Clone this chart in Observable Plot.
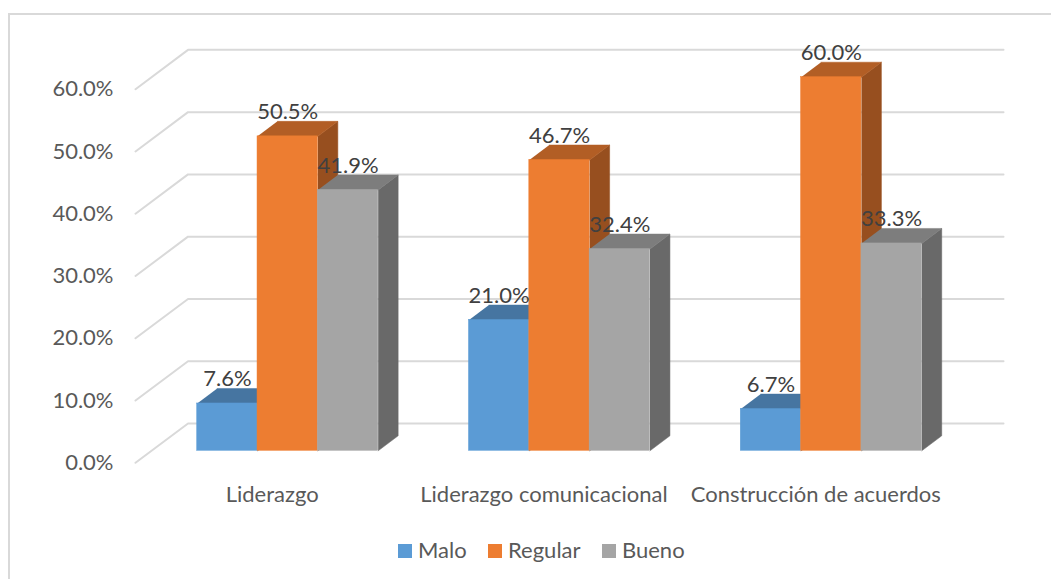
<!DOCTYPE html>
<html>
<head>
<meta charset="utf-8">
<script src="https://cdn.jsdelivr.net/npm/d3@7"></script>
<script src="https://cdn.jsdelivr.net/npm/@observablehq/plot@0.6"></script>
<style>
  html, body { margin: 0; padding: 0; background: #fff; }
  #chart { position: relative; width: 1051px; height: 579px; overflow: hidden; font-family: Lato, sans-serif; }
  #frame { position: absolute; left: 8px; top: 13px; width: 1060px; height: 600px; border-left: 2px solid #d9d9d9; border-top: 2px solid #d9d9d9; }
  #chart svg { position: absolute; left: 0; top: 0; background: transparent; }
  #legend { position: absolute; left: 0; top: 537px; height: 26px; width: 1051px; font-size: 22px; line-height: 26px; color: #595959; }
  #legend i { position: absolute; top: 7px; width: 14px; height: 14px; }
  #legend span { position: absolute; top: 0; }
</style>
</head>
<body>
<div id="chart"><div id="frame"></div><div id="legend"></div></div>
<script>
const categories = ["Liderazgo", "Liderazgo comunicacional", "Construcción de acuerdos"];
const seriesNames = ["Malo", "Regular", "Bueno"];
const malo = [7.6, 21.0, 6.7];
const regular = [50.5, 46.7, 60.0];
const bueno = [41.9, 32.4, 33.3];
const seriesValues = [malo, regular, bueno];
const ticks = [0, 10, 20, 30, 40, 50, 60];
const frontColors = ["#5b9bd5", "#ed7d31", "#a5a5a5"];
const topColors = ["#4675a1", "#b25e25", "#7d7d7d"];
const sideColors = ["#3e6993", "#974f1f", "#696969"];

// x is measured in bar widths, y in percent
const groupStep = 4.505;
const depthX = 0.331, depthY = 2.41;
const wallLeft = -0.152, tipLeft = -1.0227, wallRight = 13.365;
const wallBack = 4.39, wallFront = -1.93;

const bars = [];
seriesValues.forEach((vals, s) => vals.forEach((value, c) => {
  const u0 = c * groupStep + s;
  bars.push({s, c, value, u0, u1: u0 + 1, mid: u0 + 0.5});
}));
const faces = (b) => ({
  top: [[b.u0, b.value], [b.u1, b.value], [b.u1 + depthX, b.value + depthY], [b.u0 + depthX, b.value + depthY]],
  side: [[b.u1, 0], [b.u1 + depthX, depthY], [b.u1 + depthX, b.value + depthY], [b.u1, b.value]]
});
const poly = (pts) => pts.map(([x, y]) => ({x, y}));

const marks = [];
ticks.forEach(t => {
  marks.push(Plot.line(poly([[tipLeft, t + wallFront], [wallLeft, t + wallBack], [wallRight, t + wallBack]]),
    {x: "x", y: "y", stroke: "#d9d9d9", strokeWidth: 2}));
});
bars.forEach(b => {
  const f = faces(b);
  marks.push(Plot.line(poly(f.side), {x: "x", y: "y", fill: sideColors[b.s], stroke: sideColors[b.s], strokeWidth: 0.5}));
  marks.push(Plot.line(poly(f.top), {x: "x", y: "y", fill: topColors[b.s], stroke: topColors[b.s], strokeWidth: 0.5}));
  marks.push(Plot.rectY([b], {x1: "u0", x2: "u1", y: "value", fill: frontColors[b.s], stroke: frontColors[b.s], strokeWidth: 0.5}));
});
marks.push(Plot.text(bars, {
  x: "mid", y: "value", text: d => d.value.toFixed(1) + "%",
  lineAnchor: "bottom", dy: -17, fill: "#404040", fontSize: 22
}));
marks.push(Plot.text(categories.map((name, c) => ({name, u: c * groupStep + 1.5})), {
  x: "u", y: () => 0, text: "name", lineAnchor: "bottom", dx: -15.5, dy: 51, fill: "#595959", fontSize: 22
}));
marks.push(Plot.axisY(ticks, {
  anchor: "left", tickSize: 0, tickPadding: 0, dy: 12,
  tickFormat: d => d.toFixed(1) + "%", fill: "#595959", fontSize: 22, label: null
}));

const plot = Plot.plot({
  width: 1051, height: 579,
  marginLeft: 113, marginRight: 0, marginTop: 0, marginBottom: 0,
  style: {fontFamily: "Lato, sans-serif", background: "transparent"},
  x: {type: "linear", domain: [0, 1], range: [196.7, 257.03], axis: null},
  y: {type: "linear", domain: [0, 60], range: [450.3, 76.7], axis: null},
  marks
});
document.getElementById("chart").appendChild(plot);

const legend = document.getElementById("legend");
const legendX = [[398, 418], [488, 508], [602, 622]];
seriesNames.forEach((name, i) => {
  const sw = document.createElement("i");
  sw.style.left = legendX[i][0] + "px";
  sw.style.background = frontColors[i];
  const tx = document.createElement("span");
  tx.style.left = legendX[i][1] + "px";
  tx.textContent = name;
  legend.append(sw, tx);
});
</script>
</body>
</html>
